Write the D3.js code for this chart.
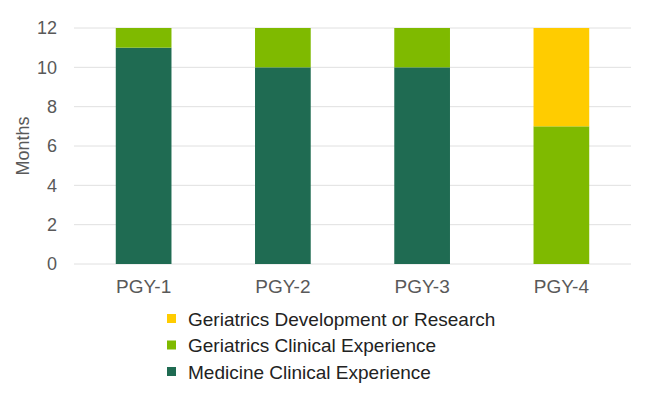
<!DOCTYPE html>
<html>
<head>
<meta charset="utf-8">
<title>months-chart</title>
<script src="https://cdn.jsdelivr.net/npm/d3@7"></script>
<style>
  body { margin: 0; background: #fff; }
  svg text { font-family: "Liberation Sans", Arial, sans-serif; }
</style>
</head>
<body>
<div id="chart"></div>
<script>
// data
var years = ["PGY-1", "PGY-2", "PGY-3", "PGY-4"];
var medicine = [11, 10, 10, 0];
var geriClinical = [1, 2, 2, 7];
var geriResearch = [0, 0, 0, 5];
var yTicks = [0, 2, 4, 6, 8, 10, 12];

var series = [
  { name: "Medicine Clinical Experience", values: medicine, color: "#1f6b52" },
  { name: "Geriatrics Clinical Experience", values: geriClinical, color: "#7fba00" },
  { name: "Geriatrics Development or Research", values: geriResearch, color: "#ffcc00" }
];

var width = 652, height = 396;
var plotL = 74, plotR = 631, plotT = 28, plotB = 264;

var svg = d3.select("#chart").append("svg")
  .attr("width", width)
  .attr("height", height);

var x = d3.scaleBand().domain(years).range([plotL, plotR]).paddingInner(0.6).paddingOuter(0.3);
var y = d3.scaleLinear().domain([0, 12]).range([plotB, plotT]);

// gridlines
svg.append("g").selectAll("line").data(yTicks).enter().append("line")
  .attr("x1", plotL).attr("x2", plotR)
  .attr("y1", function(d){ return y(d); })
  .attr("y2", function(d){ return y(d); })
  .attr("stroke", "#e0e0e0")
  .attr("stroke-width", 1);

// stacked bars
var rows = years.map(function(yr, i){
  var o = { year: yr };
  series.forEach(function(s){ o[s.name] = s.values[i]; });
  return o;
});
var stack = d3.stack().keys(series.map(function(s){ return s.name; }))(rows);

svg.append("g").selectAll("g").data(stack).enter().append("g")
  .attr("fill", function(d, i){ return series[i].color; })
  .selectAll("rect").data(function(d){ return d; }).enter().append("rect")
  .attr("x", function(d){ return x(d.data.year); })
  .attr("width", x.bandwidth())
  .attr("y", function(d){ return y(d[1]); })
  .attr("height", function(d){ return y(d[0]) - y(d[1]); });

// y axis
var yAxis = svg.append("g")
  .attr("transform", "translate(" + (plotL - 14) + ",0)")
  .call(d3.axisLeft(y).tickValues(yTicks).tickSize(0).tickPadding(3));
yAxis.select(".domain").remove();
yAxis.selectAll("text").attr("fill", "#595959").style("font-size", "18px");

// x axis
var xAxis = svg.append("g")
  .attr("transform", "translate(0," + plotB + ")")
  .call(d3.axisBottom(x).tickSize(0).tickPadding(16));
xAxis.select(".domain").remove();
xAxis.selectAll("text").attr("fill", "#595959").style("font-size", "19px");

// y title
svg.append("text")
  .attr("transform", "translate(29," + ((plotT + plotB) / 2) + ") rotate(-90)")
  .attr("text-anchor", "middle")
  .attr("fill", "#595959")
  .style("font-size", "18px")
  .text("Months");

// legend (top item is the last series)
var legend = svg.append("g").selectAll("g").data(series.slice().reverse()).enter().append("g")
  .attr("transform", function(d, i){ return "translate(167," + (319 + i * 26.5) + ")"; });
legend.append("rect")
  .attr("x", 0).attr("y", -5)
  .attr("width", 9).attr("height", 9)
  .attr("fill", function(d){ return d.color; });
legend.append("text")
  .attr("x", 21).attr("y", 0)
  .attr("dy", "0.35em")
  .attr("fill", "#222")
  .style("font-size", "19px")
  .text(function(d){ return d.name; });
</script>
</body>
</html>
